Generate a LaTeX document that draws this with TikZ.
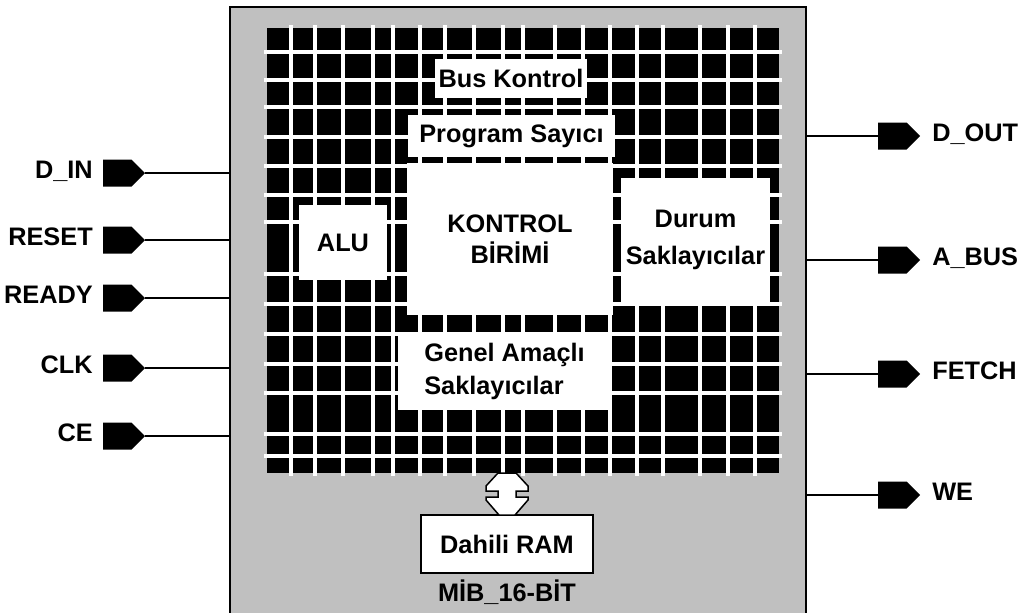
\documentclass[tikz,border=0pt]{standalone}
\usepackage{fontspec}
\setmainfont{Liberation Sans}
\usetikzlibrary{positioning,calc,shapes.symbols}
\definecolor{chipgray}{HTML}{C0C0C0}
\newcommand{\px}{0.025cm}
\tikzset{
  chip/.style={draw=black, line width=1.5*\px, fill=chipgray, inner sep=0pt, outer sep=0pt},
  coregrid/.style={fill=black, inner sep=0pt, outer sep=0pt},
  block/.style={draw=black, line width=6*\px, fill=white, align=center, inner sep=0pt, outer sep=0pt},
  plainblock/.style={block, draw=none},
  gridline/.style={draw=white, line width=4*\px},
  portpad/.style={signal, signal to=east, fill=black, minimum width=42*\px, minimum height=27*\px, inner sep=0pt, outer sep=0pt, anchor=west},
  portlabel/.style={inner sep=0pt, text height=0.716em, text depth=0pt},
  wire/.style={draw=black, line width=2*\px},
  ram/.style={draw=black, line width=2*\px, fill=white, inner sep=0pt, outer sep=0pt},
  busarrow/.style={draw=black, line width=1.5*\px, fill=white, line join=miter}
}

\begin{document}
\begin{tikzpicture}[x=\px, y=-\px, font=\fontsize{18}{22}\selectfont\bfseries]
  \useasboundingbox (0,0) rectangle (1032,612);
  \node[chip, minimum width=576*\px, minimum height=609*\px] (mib) at (518,311.5) {};
  \node[coregrid, minimum width=512*\px, minimum height=445*\px] (core) at (523,250.5) {};

  % blocks inside the core
  \node[block, minimum width=158*\px, minimum height=45*\px] (bus) at (511,78.5) {Bus Kontrol};
  \node[block, minimum width=213*\px, minimum height=48*\px] (pc) at (511.5,136) {Program Sayıcı};
  \node[block, minimum width=212*\px, minimum height=158*\px] (cu) at (510,239) {KONTROL\\BİRİMİ};
  \node[block, minimum width=94*\px, minimum height=81*\px] (alu) at (343,242.5) {ALU};
  \node[block, minimum width=155*\px, minimum height=130*\px] (flags) at (695.5,240) {Durum\\[4pt]Saklayıcılar};
  \node[plainblock, align=left, minimum width=213*\px, minimum height=78*\px] (gpr) at (504.5,371) {Genel Amaçlı\\[1.5pt]Saklayıcılar};

  % white grid over the core, kept out of the blocks
  \begin{scope}[even odd rule]
    \clip (0,0) rectangle (1032,612)
      \foreach \b in {bus,pc,cu,alu,flags} {($(\b.north west)+(3,3)$) rectangle ($(\b.south east)-(3,3)$)}
      (gpr.north west) rectangle (gpr.south east);
    \foreach \gx in {291,315,343,373,393,420,445,474,503,523,555,583,610,637,663,700,728,755}
      \draw[gridline] (\gx,25) -- (\gx,476);
    \foreach \gy in {52,80,107,137,166,195,222,274,304,334,364,393,434,456}
      \draw[gridline] (264,\gy) -- (782,\gy);
  \end{scope}

  \node[ram, minimum width=172*\px, minimum height=58*\px] (ram) at (507,544) {Dahili RAM};
  \node[portlabel, below=0.45cm of ram] (mibname) {MİB\_16-BİT};

  \coordinate (busmid) at ($(ram.north)!0.5!(ram.north |- core.south)$);
  \begin{scope}[shift={(busmid)}]
    \draw[busarrow] (-9,-21) -- (9,-21) -- (21,-8) -- (21,-3) -- (9,-3) -- (9,3) -- (21,3) -- (21,6)
      -- (8,21) -- (-8,21) -- (-21,6) -- (-21,3) -- (-9,3) -- (-9,-3) -- (-21,-3) -- (-21,-8) -- cycle;
  \end{scope}

  % input ports
  \foreach \name/\txt/\py in {din/D\_IN/173, rst/RESET/240, rdy/READY/298, clk/CLK/368, ce/CE/436} {
    \node[portpad] (\name) at (103,\py) {};
    \node[portlabel, left=0.25cm of \name] (l\name) {\txt};
    \draw[wire] (\name.east) -- (\name.east -| mib.west);
  }

  % output ports
  \foreach \name/\txt/\py in {dout/D\_OUT/136, abus/A\_BUS/260, fetch/FETCH/374, we/WE/495} {
    \node[portpad] (\name) at (878,\py) {};
    \node[portlabel, right=0.3cm of \name] (l\name) {\txt};
    \draw[wire] (\name.west) -- (\name.west -| mib.east);
  }
\end{tikzpicture}
\end{document}
